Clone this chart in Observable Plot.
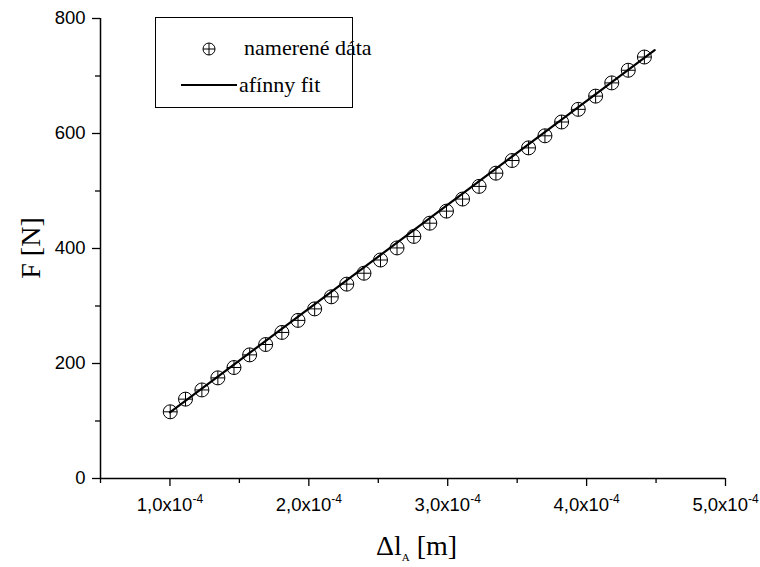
<!DOCTYPE html>
<html><head><meta charset="utf-8">
<script src="https://cdn.jsdelivr.net/npm/d3@7"></script>
<script src="https://cdn.jsdelivr.net/npm/@observablehq/plot@0.6"></script>
<style>body{margin:0;background:#fff} svg{display:block}</style>
</head><body><div id="chart"></div>
<script>
// measured data: elongation Δl_A [m] and force F [N]
const dlA = [1.002e-4, 1.112e-4, 1.230e-4, 1.345e-4, 1.461e-4, 1.574e-4, 1.689e-4, 1.806e-4, 1.922e-4, 2.042e-4,
             2.162e-4, 2.273e-4, 2.397e-4, 2.516e-4, 2.635e-4, 2.756e-4, 2.871e-4, 2.991e-4, 3.107e-4, 3.226e-4,
             3.347e-4, 3.464e-4, 3.582e-4, 3.700e-4, 3.820e-4, 3.940e-4, 4.065e-4, 4.181e-4, 4.300e-4, 4.416e-4];
const F   = [116, 138, 154, 175, 193, 215, 233, 254, 275, 295,
             316, 338, 357, 380, 401, 421, 444, 465, 486, 508,
             531, 553, 575, 596, 620, 642, 665, 688, 710, 733];
// affine fit line endpoints
const fitDlA = [1.0e-4, 4.49e-4];
const fitF   = [115, 745];
// ticks
const xTicks = [1e-4, 2e-4, 3e-4, 4e-4, 5e-4];
const xTickMantissa = ["1,0x10", "2,0x10", "3,0x10", "4,0x10", "5,0x10"];
const xTickExp = "-4";
const xMinor = [0.5e-4, 1.5e-4, 2.5e-4, 3.5e-4, 4.5e-4];
const yTicks = [0, 200, 400, 600, 800];
const yMinor = [100, 300, 500, 700];
const xTitleMain = "\u0394l", xTitleSub = "A", xTitleRest = " [m]";
const yTitle = "F [N]";
const legendLabels = ["namerené dáta", "afínny fit"];

const points = dlA.map((x, i) => ({x, F: F[i]}));
const fit = fitDlA.map((x, i) => ({x, F: fitF[i]}));

const oplus = {
  draw(ctx, size) {
    const r = Math.sqrt(size / Math.PI);
    ctx.moveTo(r, 0); ctx.arc(0, 0, r, 0, 2 * Math.PI);
    ctx.moveTo(-r, 0); ctx.lineTo(r, 0);
    ctx.moveTo(0, -r); ctx.lineTo(0, r);
  }
};

const W = 760, H = 567, mL = 100, mR = 35, mT = 18, mB = 89;
const sans = "'Liberation Sans', Arial, sans-serif";
const serif = "'Liberation Serif', 'Times New Roman', serif";

const svg = Plot.plot({
  width: W, height: H, marginLeft: mL, marginRight: mR, marginTop: mT, marginBottom: mB,
  style: {fontFamily: sans, fontSize: "18.5px", color: "#000", background: "#fff", overflow: "visible"},
  x: {type: "linear", domain: [0.5e-4, 5e-4]},
  y: {domain: [0, 800]},
  marks: [
    Plot.axisX({ticks: xTicks, tickSize: 8, tickPadding: 11, strokeWidth: 1.3, label: null,
      tickFormat: d => xTickMantissa[xTicks.indexOf(d)]}),
    Plot.axisX({ticks: xMinor, tickSize: 5, strokeWidth: 1.3, label: null, tickFormat: () => ""}),
    Plot.axisY({ticks: yTicks, tickSize: 8, tickPadding: 7, strokeWidth: 1.3, label: null}),
    Plot.axisY({ticks: yMinor, tickSize: 5, strokeWidth: 1.3, label: null, tickFormat: () => ""}),
    Plot.ruleY([0], {strokeWidth: 1.5}),
    Plot.ruleX([0.5e-4], {strokeWidth: 1.5}),
    Plot.dot(points, {x: "x", y: "F", r: 7, symbol: oplus, stroke: "black", fill: "none", strokeWidth: 1}),
    Plot.line(fit, {x: "x", y: "F", stroke: "black", strokeWidth: 2.2})
  ]
});

// superscript exponents on x tick labels
svg.querySelectorAll('g[aria-label="x-axis tick label"] text').forEach(t => {
  const s = t.textContent;
  if (!s) return;
  t.textContent = "";
  const a = document.createElementNS("http://www.w3.org/2000/svg", "tspan");
  a.textContent = s;
  const b = document.createElementNS("http://www.w3.org/2000/svg", "tspan");
  b.textContent = xTickExp;
  b.setAttribute("font-size", "12");
  b.setAttribute("dy", "-8");
  t.appendChild(a); t.appendChild(b);
});

const g = d3.select(svg);
// axis titles
const xt = g.append("text").attr("x", (mL + W - mR) / 2 + 4).attr("y", 555)
  .attr("text-anchor", "middle").attr("font-family", serif).attr("font-size", 28).attr("fill", "#000");
xt.append("tspan").text(xTitleMain);
xt.append("tspan").text(xTitleSub).attr("font-size", 11).attr("dy", 6);
xt.append("tspan").text(xTitleRest).attr("dy", -6);

g.append("text").attr("transform", `translate(40,${(mT + H - mB) / 2}) rotate(-90)`)
  .attr("text-anchor", "middle").attr("font-family", serif).attr("font-size", 28).attr("fill", "#000")
  .text(yTitle);

// legend
const lg = g.append("g").attr("text-anchor", "start");
lg.append("rect").attr("x", 155.5).attr("y", 17.5).attr("width", 197).attr("height", 90)
  .attr("fill", "#fff").attr("stroke", "#000").attr("stroke-width", 1);
lg.append("path").attr("transform", "translate(209,49)")
  .attr("d", d3.symbol(oplus, Math.PI * 6 * 6)())
  .attr("fill", "none").attr("stroke", "#000").attr("stroke-width", 1);
lg.append("line").attr("x1", 181).attr("x2", 237).attr("y1", 85).attr("y2", 85)
  .attr("stroke", "#000").attr("stroke-width", 2.2);
lg.append("text").attr("x", 244).attr("y", 55).attr("font-family", serif).attr("font-size", 22)
  .attr("fill", "#000").text(legendLabels[0]);
lg.append("text").attr("x", 239).attr("y", 92).attr("font-family", serif).attr("font-size", 22)
  .attr("fill", "#000").text(legendLabels[1]);

document.getElementById("chart").appendChild(svg);
</script>
</body></html>
